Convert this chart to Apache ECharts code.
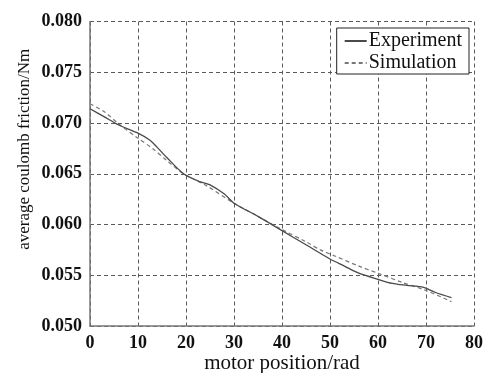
<!DOCTYPE html>
<html>
<head>
<meta charset="utf-8">
<script src="https://cdn.jsdelivr.net/npm/echarts@6/dist/echarts.min.js"></script>
<style>
html,body{margin:0;padding:0;background:#fff;}
#chart{width:491px;height:373px;}
</style>
</head>
<body>
<div id="chart"></div>
<script>
const xTicks = [0, 10, 20, 30, 40, 50, 60, 70, 80];
const yTicks = [0.050, 0.055, 0.060, 0.065, 0.070, 0.075, 0.080];

const experimentX = [0, 3, 6, 10, 12.5, 14, 16, 19.5, 23, 25, 28, 30, 35, 40, 45, 50, 53, 56, 60, 63, 66, 69.5, 72, 75.3];
const experimentY = [0.0714, 0.0706, 0.0698, 0.0690, 0.0683, 0.0676, 0.0666, 0.0650, 0.0642, 0.0639, 0.0630, 0.0621, 0.0608, 0.0594, 0.0580, 0.0566, 0.0559, 0.0552, 0.0546, 0.0542, 0.0540, 0.0538, 0.0533, 0.0528];

const simulationX = [0, 3, 6, 10, 13, 16, 19.5, 24, 30, 35, 40, 45, 48, 51, 56, 60, 65, 70, 75.3];
const simulationY = [0.0719, 0.0711, 0.0699, 0.0685, 0.0675, 0.0663, 0.0650, 0.0639, 0.0621, 0.0608, 0.0595, 0.0583, 0.0575, 0.0569, 0.0559, 0.0552, 0.0543, 0.0535, 0.0524];

const pair = (xs, ys) => xs.map((x, i) => [x, ys[i]]);

const chart = echarts.init(document.getElementById('chart'));
const serif = '"Liberation Serif", "DejaVu Serif", serif';
const gridLine = { show: true, lineStyle: { color: '#5a5a5a', type: [4, 3], width: 1 } };

chart.setOption({
  animation: false,
  backgroundColor: '#fff',
  grid: { left: 90, right: 17, top: 21.5, bottom: 47, containLabel: false, outerBoundsMode: 'none' },
  legend: {
    orient: 'vertical',
    right: 22,
    top: 28,
    backgroundColor: '#fff',
    borderColor: '#222',
    borderWidth: 1,
    padding: [3, 7, 1, 7],
    itemGap: 2,
    itemWidth: 22,
    itemHeight: 14,
    itemStyle: { opacity: 0 },
    textStyle: { fontFamily: serif, fontSize: 20, color: '#111', padding: [0, 0, 0, -3] },
    data: ['Experiment', 'Simulation']
  },
  xAxis: {
    type: 'value',
    min: 0, max: 80, interval: 10,
    name: 'motor position/rad',
    nameLocation: 'middle',
    nameGap: 27,
    nameMoveOverlap: false,
    nameTextStyle: { fontFamily: serif, fontSize: 21, color: '#111' },
    axisLine: { show: true, onZero: false, lineStyle: { color: '#777', width: 1.5 } },
    axisTick: { show: false },
    axisLabel: {
      margin: 8, fontFamily: serif, fontSize: 18, fontWeight: 'bold', color: '#111',
      formatter: v => xTicks.includes(v) ? String(v) : ''
    },
    splitLine: gridLine
  },
  yAxis: {
    type: 'value',
    min: 0.050, max: 0.080, interval: 0.005,
    name: 'average coulomb friction/Nm',
    nameLocation: 'middle',
    nameGap: 57,
    nameMoveOverlap: false,
    nameTextStyle: { fontFamily: serif, fontSize: 17, color: '#111', padding: [0, 0, 0, 49] },
    axisLine: { show: true, lineStyle: { color: '#777', width: 1.5 } },
    axisTick: { show: false },
    axisLabel: {
      margin: 8, fontFamily: serif, fontSize: 18, fontWeight: 'bold', color: '#111',
      formatter: v => {
        const t = yTicks.find(y => Math.abs(y - v) < 1e-9);
        return t !== undefined ? t.toFixed(3) : '';
      }
    },
    splitLine: gridLine
  },
  series: [
    {
      name: 'Experiment',
      type: 'line',
      data: pair(experimentX, experimentY),
      smooth: 0.3,
      symbol: 'none',
      color: '#4a4a4a',
      lineStyle: { color: '#4a4a4a', width: 1.3, type: 'solid' },
      z: 3
    },
    {
      name: 'Simulation',
      type: 'line',
      data: pair(simulationX, simulationY),
      smooth: 0.3,
      symbol: 'none',
      color: '#777',
      lineStyle: { color: '#777', width: 1.2, type: [4, 3] },
      z: 2
    }
  ]
});
</script>
</body>
</html>
